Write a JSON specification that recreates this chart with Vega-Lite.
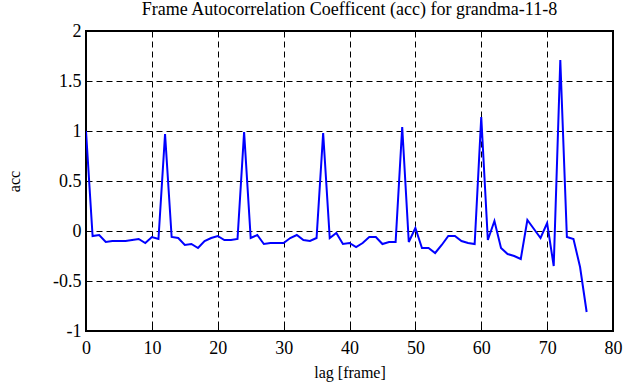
{
  "$schema": "https://vega.github.io/schema/vega-lite/v6.json",
  "autosize": "none",
  "width": 527,
  "height": 300,
  "padding": {"left": 86, "top": 31, "right": 22, "bottom": 56},
  "background": "white",
  "title": {"text": "Frame Autocorrelation Coefficent (acc) for grandma-11-8", "font": "Liberation Serif", "fontSize": 18, "fontWeight": "normal", "color": "black", "offset": 3, "anchor": "middle"},
  "config": {
    "view": {"stroke": "black", "strokeWidth": 2},
    "axis": {"labelFont": "Liberation Serif", "titleFont": "Liberation Serif", "labelFontSize": 18, "titleFontSize": 16, "titleFontWeight": "normal", "labelColor": "black", "titleColor": "black", "domain": false, "gridColor": "black", "gridDash": [6, 4], "gridWidth": 1, "gridOpacity": 1, "tickColor": "black", "tickSize": -5, "tickWidth": 1, "labelOverlap": false, "labelBound": false, "labelFlush": false}
  },
  "data": {"values": [
    {"lag": 0, "acc": 1.0}, {"lag": 1, "acc": -0.05}, {"lag": 2, "acc": -0.04}, {"lag": 3, "acc": -0.11},
    {"lag": 4, "acc": -0.1}, {"lag": 5, "acc": -0.1}, {"lag": 6, "acc": -0.1}, {"lag": 7, "acc": -0.09},
    {"lag": 8, "acc": -0.08}, {"lag": 9, "acc": -0.12}, {"lag": 10, "acc": -0.06}, {"lag": 11, "acc": -0.08},
    {"lag": 12, "acc": 0.97}, {"lag": 13, "acc": -0.06}, {"lag": 14, "acc": -0.07}, {"lag": 15, "acc": -0.14},
    {"lag": 16, "acc": -0.13}, {"lag": 17, "acc": -0.17}, {"lag": 18, "acc": -0.1}, {"lag": 19, "acc": -0.07},
    {"lag": 20, "acc": -0.05}, {"lag": 21, "acc": -0.09}, {"lag": 22, "acc": -0.09}, {"lag": 23, "acc": -0.08},
    {"lag": 24, "acc": 0.99}, {"lag": 25, "acc": -0.07}, {"lag": 26, "acc": -0.04}, {"lag": 27, "acc": -0.13},
    {"lag": 28, "acc": -0.12}, {"lag": 29, "acc": -0.12}, {"lag": 30, "acc": -0.12}, {"lag": 31, "acc": -0.07},
    {"lag": 32, "acc": -0.04}, {"lag": 33, "acc": -0.09}, {"lag": 34, "acc": -0.1}, {"lag": 35, "acc": -0.07},
    {"lag": 36, "acc": 0.98}, {"lag": 37, "acc": -0.07}, {"lag": 38, "acc": -0.02}, {"lag": 39, "acc": -0.13},
    {"lag": 40, "acc": -0.12}, {"lag": 41, "acc": -0.16}, {"lag": 42, "acc": -0.12}, {"lag": 43, "acc": -0.06},
    {"lag": 44, "acc": -0.06}, {"lag": 45, "acc": -0.13}, {"lag": 46, "acc": -0.11}, {"lag": 47, "acc": -0.11},
    {"lag": 48, "acc": 1.04}, {"lag": 49, "acc": -0.11}, {"lag": 50, "acc": 0.03}, {"lag": 51, "acc": -0.17},
    {"lag": 52, "acc": -0.17}, {"lag": 53, "acc": -0.22}, {"lag": 54, "acc": -0.14}, {"lag": 55, "acc": -0.05},
    {"lag": 56, "acc": -0.05}, {"lag": 57, "acc": -0.1}, {"lag": 58, "acc": -0.12}, {"lag": 59, "acc": -0.13},
    {"lag": 60, "acc": 1.14}, {"lag": 61, "acc": -0.09}, {"lag": 62, "acc": 0.1}, {"lag": 63, "acc": -0.17},
    {"lag": 64, "acc": -0.23}, {"lag": 65, "acc": -0.25}, {"lag": 66, "acc": -0.28}, {"lag": 67, "acc": 0.11},
    {"lag": 68, "acc": 0.02}, {"lag": 69, "acc": -0.07}, {"lag": 70, "acc": 0.08}, {"lag": 71, "acc": -0.35},
    {"lag": 72, "acc": 1.71}, {"lag": 73, "acc": -0.06}, {"lag": 74, "acc": -0.08}, {"lag": 75, "acc": -0.36},
    {"lag": 76, "acc": -0.81}
  ]},
  "layer": [
    {
      "mark": {"type": "line", "opacity": 0},
      "encoding": {
        "x": {"field": "lag", "type": "quantitative", "scale": {"domain": [0, 80], "nice": false}, "axis": {"orient": "top", "title": null, "labels": false, "grid": false, "values": [0, 10, 20, 30, 40, 50, 60, 70, 80]}},
        "y": {"field": "acc", "type": "quantitative", "scale": {"domain": [-1, 2], "nice": false}, "axis": {"orient": "right", "title": null, "labels": false, "grid": false, "values": [-1, -0.5, 0, 0.5, 1, 1.5, 2]}}
      }
    },
    {
      "mark": {"type": "line", "color": "#0000ff", "strokeWidth": 2, "clip": true},
      "encoding": {
        "x": {"field": "lag", "type": "quantitative", "scale": {"domain": [0, 80], "nice": false}, "axis": {"orient": "bottom", "title": "lag [frame]", "grid": true, "format": "d", "values": [0, 10, 20, 30, 40, 50, 60, 70, 80], "labelPadding": 13, "titlePadding": 7}},
        "y": {"field": "acc", "type": "quantitative", "scale": {"domain": [-1, 2], "nice": false}, "axis": {"orient": "left", "title": "acc", "grid": true, "labelExpr": "toString(datum.value)", "values": [-1, -0.5, 0, 0.5, 1, 1.5, 2], "labelPadding": 10, "titlePadding": 30}}
      }
    }
  ],
  "resolve": {"axis": {"x": "independent", "y": "independent"}}
}
